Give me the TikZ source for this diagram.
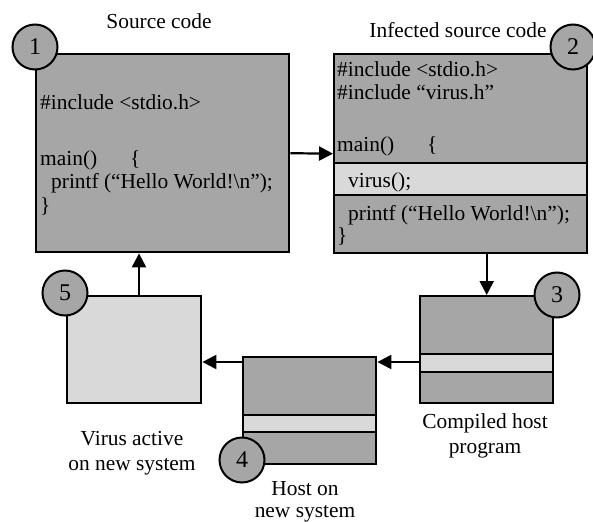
\documentclass[tikz,border=0pt]{standalone}
\usepackage{fontspec}
\setmainfont{Liberation Serif}
\usetikzlibrary{arrows.meta}
\definecolor{codegray}{HTML}{A6A6A6}
\definecolor{bandgray}{HTML}{D9D9D9}
\begin{document}
\begin{tikzpicture}[x=1pt,y=-1pt,
  every node/.style={font=\fontsize{21.4}{24}\selectfont},
  panel/.style={draw, line width=2.4pt, fill=codegray, inner sep=0pt, anchor=north west},
  band/.style={draw, line width=2.4pt, fill=bandgray, inner sep=0pt, anchor=north west},
  num/.style={circle, draw, line width=2pt, fill=codegray, minimum size=45pt, inner sep=0pt,
    font=\fontsize{24}{26}\selectfont},
  flow/.style={line width=2.2pt, -{Triangle[length=14pt,width=14pt]}},
  code/.style={anchor=base west, inner sep=0pt},
  caption/.style={anchor=base, inner sep=0pt}
]
\useasboundingbox (0,0) rectangle (593,521);

% stage 1: original source
\node[panel, minimum width=253pt, minimum height=198pt] (src) at (35,53) {};
\node[code] (s1) at (40,110) {\#include <stdio.h>};
\node[code] (s2) at (40,166) {\makebox[90pt][l]{main()}\{};
\node[code] (s3) at (51,189) {printf (“Hello World!\textbackslash n”);};
\node[code] (s4) at (40,212) {\}};
\node[caption] (srct) at (159,29) {Source code};
\node[num] (n1) at (35,47) {1};

% stage 2: infected source
\node[panel, minimum width=253pt, minimum height=199pt] (inf) at (333,53) {};
\node[band, minimum width=253pt, minimum height=32pt] (vband) at (333,162) {};
\node[code] (i1) at (337,77) {\#include <stdio.h>};
\node[code] (i2) at (337,100) {\#include “virus.h”};
\node[code] (i3) at (337,152) {\makebox[90pt][l]{main()}\{};
\node[code] (i4) at (348,187) {virus();};
\node[code] (i5) at (348,220) {printf (“Hello World!\textbackslash n”);};
\node[code] (i6) at (337,242) {\}};
\node[caption] (inft) at (458,38) {Infected source code};
\node[num] (n2) at (573,47) {2};

% stage 3: compiled host
\node[panel, minimum width=133pt, minimum height=107pt] (comp) at (419,295) {};
\node[band, minimum width=133pt, minimum height=18pt] (cband) at (419,353) {};
\node[num] (n3) at (557,295) {3};
\node[caption] (ct1) at (485,428) {Compiled host};
\node[caption] (ct2) at (485,453) {program};

% stage 4: host on new system
\node[panel, minimum width=133pt, minimum height=107pt] (host) at (242,356) {};
\node[band, minimum width=133pt, minimum height=17pt] (hband) at (242,414) {};
\node[num] (n4) at (242,460) {4};
\node[caption] (ht1) at (305,495) {Host on};
\node[caption] (ht2) at (305,517) {new system};

% stage 5: virus active
\node[band, minimum width=134pt, minimum height=107pt] (act) at (66,295) {};
\node[num] (n5) at (65,293) {5};
\node[caption] (at1) at (132,445) {Virus active};
\node[caption] (at2) at (132,470) {on new system};

% connectors
\coordinate (row) at (0,362);
\coordinate (col) at (139,0);
\draw[flow] (src.east) -- (inf.west);
\draw[flow] (comp.north |- inf.south) -- (comp.north);
\draw[flow] (comp.west |- row) -- (host.east |- row);
\draw[flow] (host.west |- row) -- (act.east |- row);
\draw[flow] (act.north -| col) -- (src.south -| col);
\end{tikzpicture}
\end{document}
